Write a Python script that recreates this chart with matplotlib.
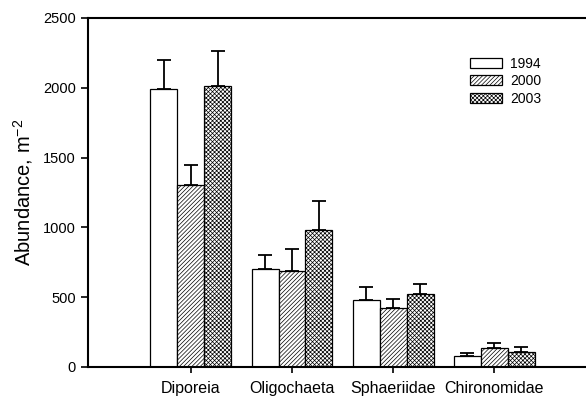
import numpy as np
import matplotlib.pyplot as plt

plt.rcParams['font.family'] = ['Liberation Sans', 'DejaVu Sans']
plt.rcParams['mathtext.fontset'] = 'custom'
plt.rcParams['mathtext.rm'] = 'Liberation Sans'
plt.rcParams['hatch.linewidth'] = 0.5

taxa = ['Diporeia', 'Oligochaeta', 'Sphaeriidae', 'Chironomidae']
years = ['1994', '2000', '2003']

# mean abundance (per m2) and standard error, one list per year
mean_1994 = [1990, 700, 480, 80]
mean_2000 = [1300, 690, 420, 135]
mean_2003 = [2010, 980, 520, 105]
se_1994 = [210, 100, 90, 20]
se_2000 = [150, 155, 68, 40]
se_2003 = [250, 210, 76, 35]

means = [mean_1994, mean_2000, mean_2003]
errs = [se_1994, se_2000, se_2003]
hatches = ['', '////////', 'xxxxxxxx']

fig = plt.figure(figsize=(5.86, 3.98), dpi=100)
ax = fig.add_axes([0.150, 0.078, 0.869, 0.877])

x = np.arange(len(taxa))
w = 0.267
for i in range(3):
    pos = x + (i - 1) * w
    ax.bar(pos, means[i], w, color='white', edgecolor='black', linewidth=0.9,
           hatch=hatches[i], label=years[i])
    ax.errorbar(pos, means[i], yerr=[np.zeros(len(taxa)), errs[i]], fmt='none',
                ecolor='black', elinewidth=1.3, capsize=5, capthick=1.3)

ax.set_xlim(-1.02, 4.02)
ax.set_ylim(0, 2500)
ax.set_yticks([0, 500, 1000, 1500, 2000, 2500])
ax.set_xticks(x)
ax.set_xticklabels(taxa, fontsize=11.5)
ax.tick_params(axis='y', labelsize=10.5, direction='out', length=5, width=1.2)
ax.tick_params(axis='x', direction='out', length=4, width=1.2, pad=6)
ax.set_ylabel('Abundance, m$^{\\mathrm{-2}}$', fontsize=14.5)
ax.yaxis.set_label_coords(-0.103, 0.5)

for s in ['left', 'bottom', 'top']:
    ax.spines[s].set_linewidth(1.5)
ax.spines['right'].set_visible(False)

ax.legend(loc='upper left', bbox_to_anchor=(0.725, 0.925), frameon=False,
          fontsize=10, handlelength=2.3, handleheight=0.75, labelspacing=0.25,
          handletextpad=0.6)

fig.savefig('out.png', dpi=100)
